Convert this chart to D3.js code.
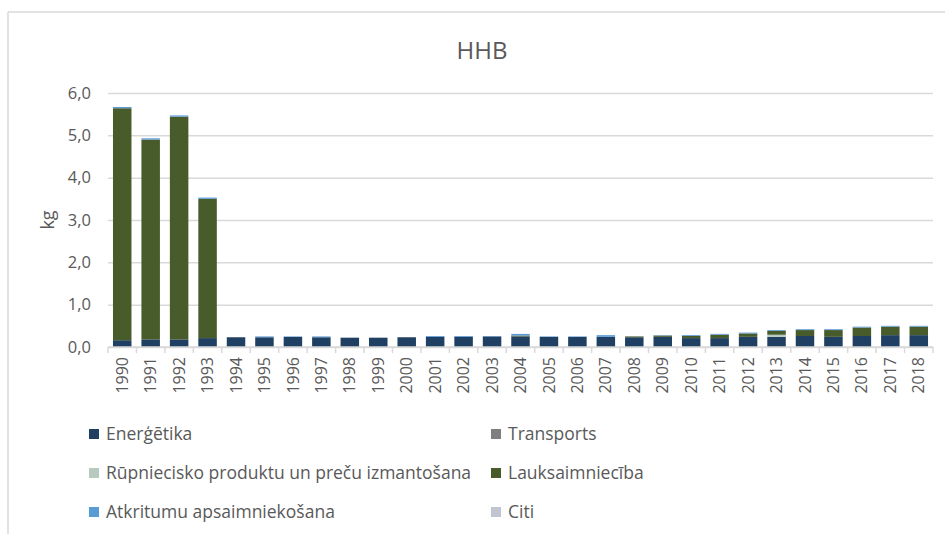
<!DOCTYPE html>
<html>
<head>
<meta charset="utf-8">
<script src="https://cdn.jsdelivr.net/npm/d3@7"></script>
<style>
  body { margin: 0; background: #fff; overflow: hidden; }
  svg { display: block; }
  text { font-family: "Open Sans", sans-serif; fill: #595959; }
</style>
</head>
<body>
<div id="canvas" style="width:945px;height:534px"></div>
<script>
// categories and series (kg)
var years = ['1990','1991','1992','1993','1994','1995','1996','1997','1998','1999',
  '2000','2001','2002','2003','2004','2005','2006','2007','2008','2009',
  '2010','2011','2012','2013','2014','2015','2016','2017','2018'];
var energetika = [0.16,0.18,0.18,0.21,0.23,0.23,0.24,0.23,0.22,0.22,
  0.23,0.24,0.24,0.25,0.25,0.24,0.24,0.24,0.23,0.24,
  0.21,0.21,0.24,0.24,0.26,0.24,0.26,0.28,0.28];
var transports = [0,0,0,0,0,0,0,0,0,0, 0,0,0,0,0,0,0,0,0,0, 0,0,0,0,0,0,0,0,0];
var rupnieciba = [0,0,0,0,0,0,0,0,0,0, 0,0,0,0,0,0,0,0,0,0, 0,0,0,0.05,0,0,0,0,0];
var lauksaimnieciba = [5.48,4.72,5.26,3.29,0,0,0,0,0,0,
  0,0,0,0,0.02,0,0,0,0.02,0.03,
  0.05,0.08,0.08,0.09,0.14,0.16,0.20,0.20,0.20];
var atkritumi = [0.03,0.03,0.03,0.03,0,0.02,0.01,0.02,0,0,
  0,0.02,0.02,0.01,0.04,0.01,0.01,0.04,0,0.01,
  0.02,0.02,0.02,0.02,0.02,0.02,0.02,0.02,0.02];
var citi = [0,0,0,0,0,0,0,0,0,0, 0,0,0,0,0,0,0,0,0,0, 0,0,0,0,0,0,0,0,0];
var seriesNames = ['Enerģētika','Transports','Rūpniecisko produktu un preču izmantošana',
  'Lauksaimniecība','Atkritumu apsaimniekošana','Citi'];
var seriesColors = ['#1f3f63','#7f7f7f','#b6cabf','#475b2b','#5b9bd5','#c0c5cf'];
var yTicks = [0,1,2,3,4,5,6];

var seriesValues = [energetika, transports, rupnieciba, lauksaimnieciba, atkritumi, citi];

// build table for d3.stack
var table = years.map(function (yr, i) {
  var row = { year: yr };
  seriesNames.forEach(function (name, k) { row[name] = seriesValues[k][i]; });
  return row;
});
var stacked = d3.stack().keys(seriesNames)(table);

var width = 945, height = 534;
var margin = { left: 108, top: 93, right: 12, bottom: 187 };
var innerWidth = width - margin.left - margin.right;
var innerHeight = height - margin.top - margin.bottom;

var svg = d3.select('#canvas').append('svg')
  .attr('width', width)
  .attr('height', height);

// chart frame: top and left edges
svg.append('line')
  .attr('x1', 8).attr('x2', width).attr('y1', 12).attr('y2', 12)
  .attr('stroke', '#d9d9d9').attr('stroke-width', 1.5);
svg.append('line')
  .attr('x1', 8).attr('x2', 8).attr('y1', 12).attr('y2', height)
  .attr('stroke', '#d9d9d9').attr('stroke-width', 1.5);

svg.append('text')
  .attr('x', 482).attr('y', 59)
  .attr('text-anchor', 'middle')
  .style('font-size', '24px')
  .text('HHB');

var x = d3.scaleBand().domain(years).range([0, innerWidth]).paddingInner(0.35).paddingOuter(0.175);
var y = d3.scaleLinear().domain([0, 6]).range([innerHeight, 0]);
var fmt = function (d) { return d3.format('.1f')(d).replace('.', ','); };

var g = svg.append('g')
  .attr('transform', 'translate(' + margin.left + ',' + margin.top + ')');

// grid lines
g.append('g')
  .attr('class', 'yGrid')
  .call(d3.axisLeft(y).tickValues(yTicks).tickSize(-innerWidth).tickFormat(''))
  .call(function (s) { s.select('.domain').remove(); })
  .selectAll('line')
  .attr('stroke', '#d9d9d9').attr('stroke-width', 1.5);

// y axis labels
g.append('g')
  .attr('class', 'yAxis')
  .call(d3.axisLeft(y).tickValues(yTicks).tickSize(0).tickPadding(17).tickFormat(fmt))
  .call(function (s) { s.select('.domain').remove(); })
  .selectAll('text')
  .style('font-size', '16.5px')
  .attr('fill', '#595959');

svg.append('text')
  .attr('transform', 'translate(54,' + (margin.top + innerHeight / 2) + ') rotate(-90)')
  .attr('text-anchor', 'middle')
  .style('font-size', '18px')
  .text('kg');

// bars
g.selectAll('g.layer')
  .data(stacked)
  .enter()
  .append('g')
  .attr('class', 'layer')
  .attr('fill', function (d, i) { return seriesColors[i]; })
  .selectAll('rect')
  .data(function (d) { return d; })
  .enter()
  .append('rect')
  .attr('x', function (d) { return x(d.data.year); })
  .attr('width', x.bandwidth())
  .attr('y', function (d) { return y(d[1]); })
  .attr('height', function (d) { return y(d[0]) - y(d[1]); });

// x axis with tick marks between categories
var step = x.step();
var xAxisG = g.append('g')
  .attr('transform', 'translate(0,' + innerHeight + ')');
xAxisG.append('line')
  .attr('x1', 0).attr('x2', innerWidth)
  .attr('stroke', '#d9d9d9').attr('stroke-width', 1.5);
xAxisG.selectAll('line.tick')
  .data(d3.range(years.length + 1))
  .enter()
  .append('line')
  .attr('class', 'tick')
  .attr('x1', function (d) { return d * step; })
  .attr('x2', function (d) { return d * step; })
  .attr('y1', 0).attr('y2', 6)
  .attr('stroke', '#d9d9d9').attr('stroke-width', 1.5);
xAxisG.selectAll('text')
  .data(years)
  .enter()
  .append('text')
  .attr('transform', function (d) {
    return 'translate(' + (x(d) + x.bandwidth() / 2) + ',10) rotate(-90)';
  })
  .attr('text-anchor', 'end')
  .attr('dy', '0.35em')
  .style('font-size', '16px')
  .text(function (d) { return d; });

// legend, two columns
var legendX = [89, 491], legendY = [434, 473, 512];
var legend = svg.selectAll('g.legend')
  .data(seriesNames)
  .enter()
  .append('g')
  .attr('class', 'legend')
  .attr('transform', function (d, i) {
    return 'translate(' + legendX[i % 2] + ',' + legendY[Math.floor(i / 2)] + ')';
  });
legend.append('rect')
  .attr('x', 0).attr('y', -5)
  .attr('width', 10).attr('height', 10)
  .attr('fill', function (d, i) { return seriesColors[i]; });
legend.append('text')
  .attr('x', 17)
  .attr('dy', '0.35em')
  .style('font-size', '17.5px')
  .text(function (d) { return d; });
</script>
</body>
</html>
